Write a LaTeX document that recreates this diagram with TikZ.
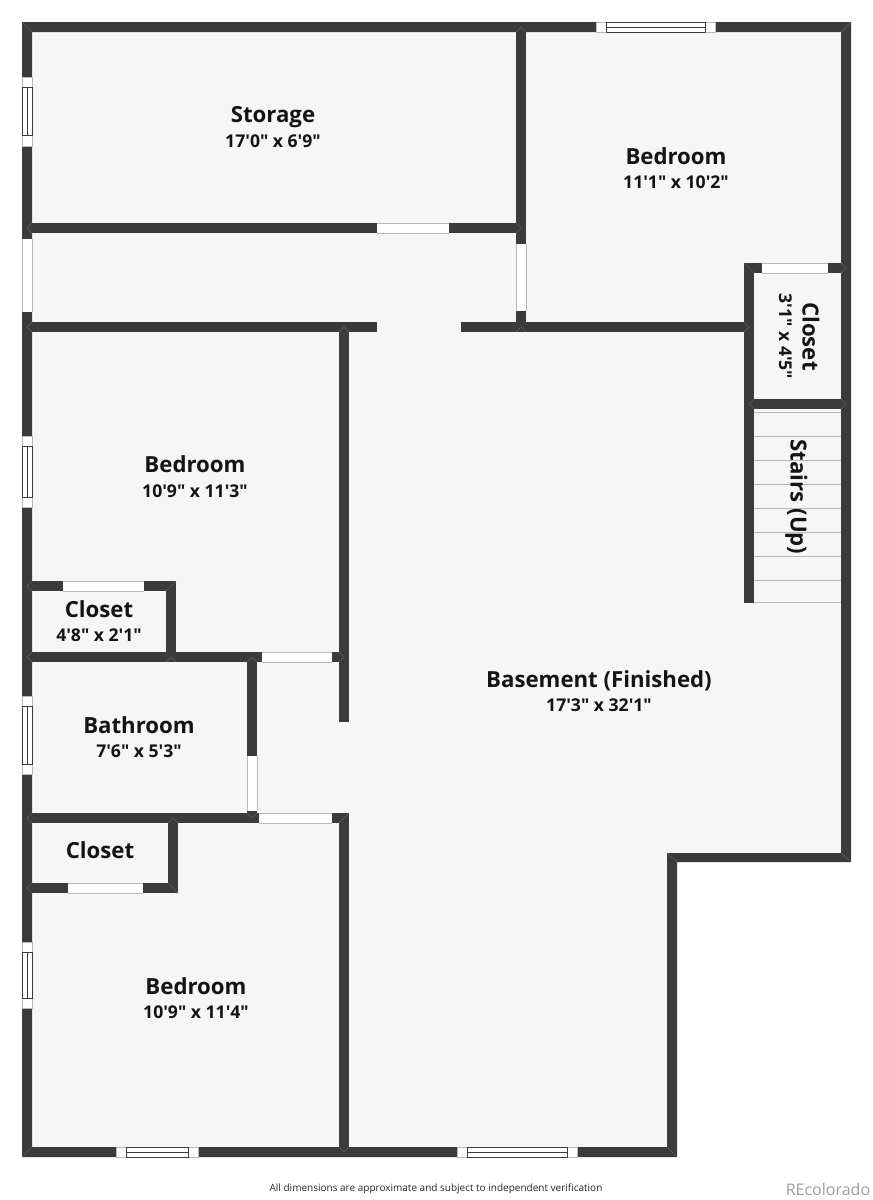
\documentclass[tikz,border=0pt]{standalone}
\usepackage{fontspec}
\newfontfamily\ofont{Open Sans}
\definecolor{wallc}{HTML}{3B3B3B}
\definecolor{floorc}{HTML}{F6F6F6}
\definecolor{edgec}{HTML}{B8B8B8}
\definecolor{mitrec}{HTML}{6A6A6A}
\tikzset{
  wall/.style={fill=wallc},
  opening/.style={fill=white,draw=edgec,line width=0.7pt},
  frame/.style={draw=wallc,line width=0.6pt,fill=white},
  tread/.style={draw=edgec,line width=0.8pt},
  mitre/.style={draw=mitrec,line width=0.35pt},
  roomname/.style={font=\ofont\bfseries\fontsize{22.2}{22.2}\selectfont,text=black!92,inner sep=0pt},
  roomdim/.style={font=\ofont\bfseries\fontsize{17.6}{17.6}\selectfont,text=black!92,inner sep=0pt},
}
% horizontal opening: x1 x2 y1 y2
\newcommand{\HO}[4]{\fill[white] (#1,#3) rectangle (#2,#4);\draw[edgec,line width=0.7pt] (#1,#3) -- (#2,#3) (#1,#4) -- (#2,#4);}
% vertical opening: y1 y2 x1 x2
\newcommand{\VO}[4]{\fill[white] (#3,#1) rectangle (#4,#2);\draw[edgec,line width=0.7pt] (#3,#1) -- (#3,#2) (#4,#1) -- (#4,#2);}
% vertical window: y1 y2 y1inner y2inner x1 x2
\newcommand{\VW}[6]{\draw[opening] (#5,#1) rectangle (#6,#2);\draw[frame] (#5,#3) rectangle (#6,#4);\draw[frame] ({(#5+#6)/2},#3) -- ({(#5+#6)/2},#4);}
% horizontal window: x1 x2 x1inner x2inner y1 y2
\newcommand{\HW}[6]{\draw[opening] (#1,#5) rectangle (#2,#6);\draw[frame] (#3,#5) rectangle (#4,#6);\draw[frame] (#3,{(#5+#6)/2}) -- (#4,{(#5+#6)/2});}
\begin{document}
\begin{tikzpicture}[x=1pt,y=-1pt]
\useasboundingbox (0,0) rectangle (873,1200);
\fill[white] (0,0) rectangle (873,1200);
% floor
\fill[floorc] (22,22) -- (851,22) -- (851,862) -- (677,862) -- (677,1157) -- (22,1157) -- cycle;
% outer walls
\fill[wall,even odd rule] (22,22) -- (851,22) -- (851,862) -- (677,862) -- (677,1157) -- (22,1157) -- cycle
 (32,32) -- (32,1147) -- (667,1147) -- (667,853) -- (841,853) -- (841,32) -- cycle;
% interior walls
\fill[wall] (516,22) rectangle (526,233);
\fill[wall] (22,223) rectangle (526,233);
\fill[wall] (22,322) rectangle (377,332);
\fill[wall] (461,322) rectangle (750,332);
\fill[wall] (516,233) rectangle (526,332);
\fill[wall] (744,263) rectangle (754,603);
\fill[wall] (744,263) rectangle (851,273);
\fill[wall] (744,399) rectangle (851,409);
\fill[wall] (339,322) rectangle (349,722);
\fill[wall] (22,652) rectangle (349,662);
\fill[wall] (22,581) rectangle (176,591);
\fill[wall] (166,581) rectangle (176,662);
\fill[wall] (247,652) rectangle (257,823);
\fill[wall] (22,813) rectangle (349,823);
\fill[wall] (339,813) rectangle (349,1157);
\fill[wall] (168,813) rectangle (178,893);
\fill[wall] (22,883) rectangle (178,893);
% wall joints
\foreach \jy in {223,322,581,652,813,883}
  \draw[mitre] (32,\jy) -- (27,\jy+5) -- (32,\jy+10);
\foreach \jy in {263,399}
  \draw[mitre] (841,\jy) -- (846,\jy+5) -- (841,\jy+10);
\draw[mitre] (22,22) -- (32,32) (851,22) -- (841,32) (22,1157) -- (32,1147) (677,1157) -- (667,1147)
  (851,862) -- (841,853) (677,862) -- (667,853) (176,581) -- (166,591) (178,893) -- (168,883)
  (744,263) -- (754,273) (349,813) -- (339,823)
  (516,32) -- (521,27) -- (526,32) (339,1147) -- (344,1152) -- (349,1147)
  (744,322) -- (749,327) -- (744,332) (754,399) -- (749,404) -- (754,409)
  (516,223) -- (521,228) -- (516,233) (516,332) -- (521,327) -- (526,332)
  (339,332) -- (344,327) -- (349,332) (166,662) -- (171,657) -- (176,662)
  (168,823) -- (173,818) -- (178,823) (247,662) -- (252,657) -- (257,662)
  (247,813) -- (252,818) -- (257,813) (339,652) -- (344,657) -- (339,662);
% doors and openings
\HO{377}{449}{223}{233}
\VO{239}{312}{22}{32}
\VO{244}{311}{516}{526}
\HO{762}{828}{263}{273}
\HO{262}{332}{652}{662}
\HO{63}{144}{581}{591}
\VO{756}{811}{247}{257}
\HO{259}{332}{813}{823}
\HO{68}{143}{883}{893}
% windows
\VW{77}{146}{87}{135}{22}{32}
\VW{436}{507}{446}{497}{22}{32}
\VW{696}{774}{706}{764}{22}{32}
\VW{942}{1008}{952}{998}{22}{32}
\HW{596}{715}{606}{705}{22}{32}
\HW{116}{198}{126}{188}{1147}{1157}
\HW{457}{577}{467}{567}{1147}{1157}
% stairs
\foreach \sy in {412,436,460,484,508,532,556,580,602}
  \draw[tread] (754,\sy) -- (841,\sy);
% labels
\node[roomname] (storage) at (273,117.5) {Storage};
\node[roomdim] (storaged) at (273,141) {17'0" x 6'9"};
\node[roomname] (bed1) at (676,156) {Bedroom};
\node[roomdim] (bed1d) at (676,182) {11'1" x 10'2"};
\node[roomname,rotate=-90] (cl1) at (811,336.5) {Closet};
\node[roomdim,rotate=-90] (cl1d) at (785.5,336.5) {3'1" x 4'5"};
\node[roomname,rotate=-90] (stairs) at (796.5,497) {Stairs (Up)};
\node[roomname] (bed2) at (195,464) {Bedroom};
\node[roomdim] (bed2d) at (195,491) {10'9" x 11'3"};
\node[roomname] (cl2) at (99,609) {Closet};
\node[roomdim] (cl2d) at (99,635) {4'8" x 2'1"};
\node[roomname] (bath) at (139,725) {Bathroom};
\node[roomdim] (bathd) at (139,751) {7'6" x 5'3"};
\node[roomname] (cl3) at (100,850) {Closet};
\node[roomname] (bed3) at (196,986) {Bedroom};
\node[roomdim] (bed3d) at (196,1012) {10'9" x 11'4"};
\node[roomname] (base) at (599,681) {Basement (Finished)};
\node[roomdim] (based) at (599,705) {17'3" x 32'1"};
\node[inner sep=0pt,font=\ofont\fontsize{10}{10}\selectfont,text=black!85] (note) at (436,1189) {All dimensions are approximate and subject to independent verification};
\node[inner sep=0pt,font=\ofont\fontsize{16}{16}\selectfont,text=black!38] (brand) at (828,1189) {REcolorado};
\end{tikzpicture}
\end{document}
